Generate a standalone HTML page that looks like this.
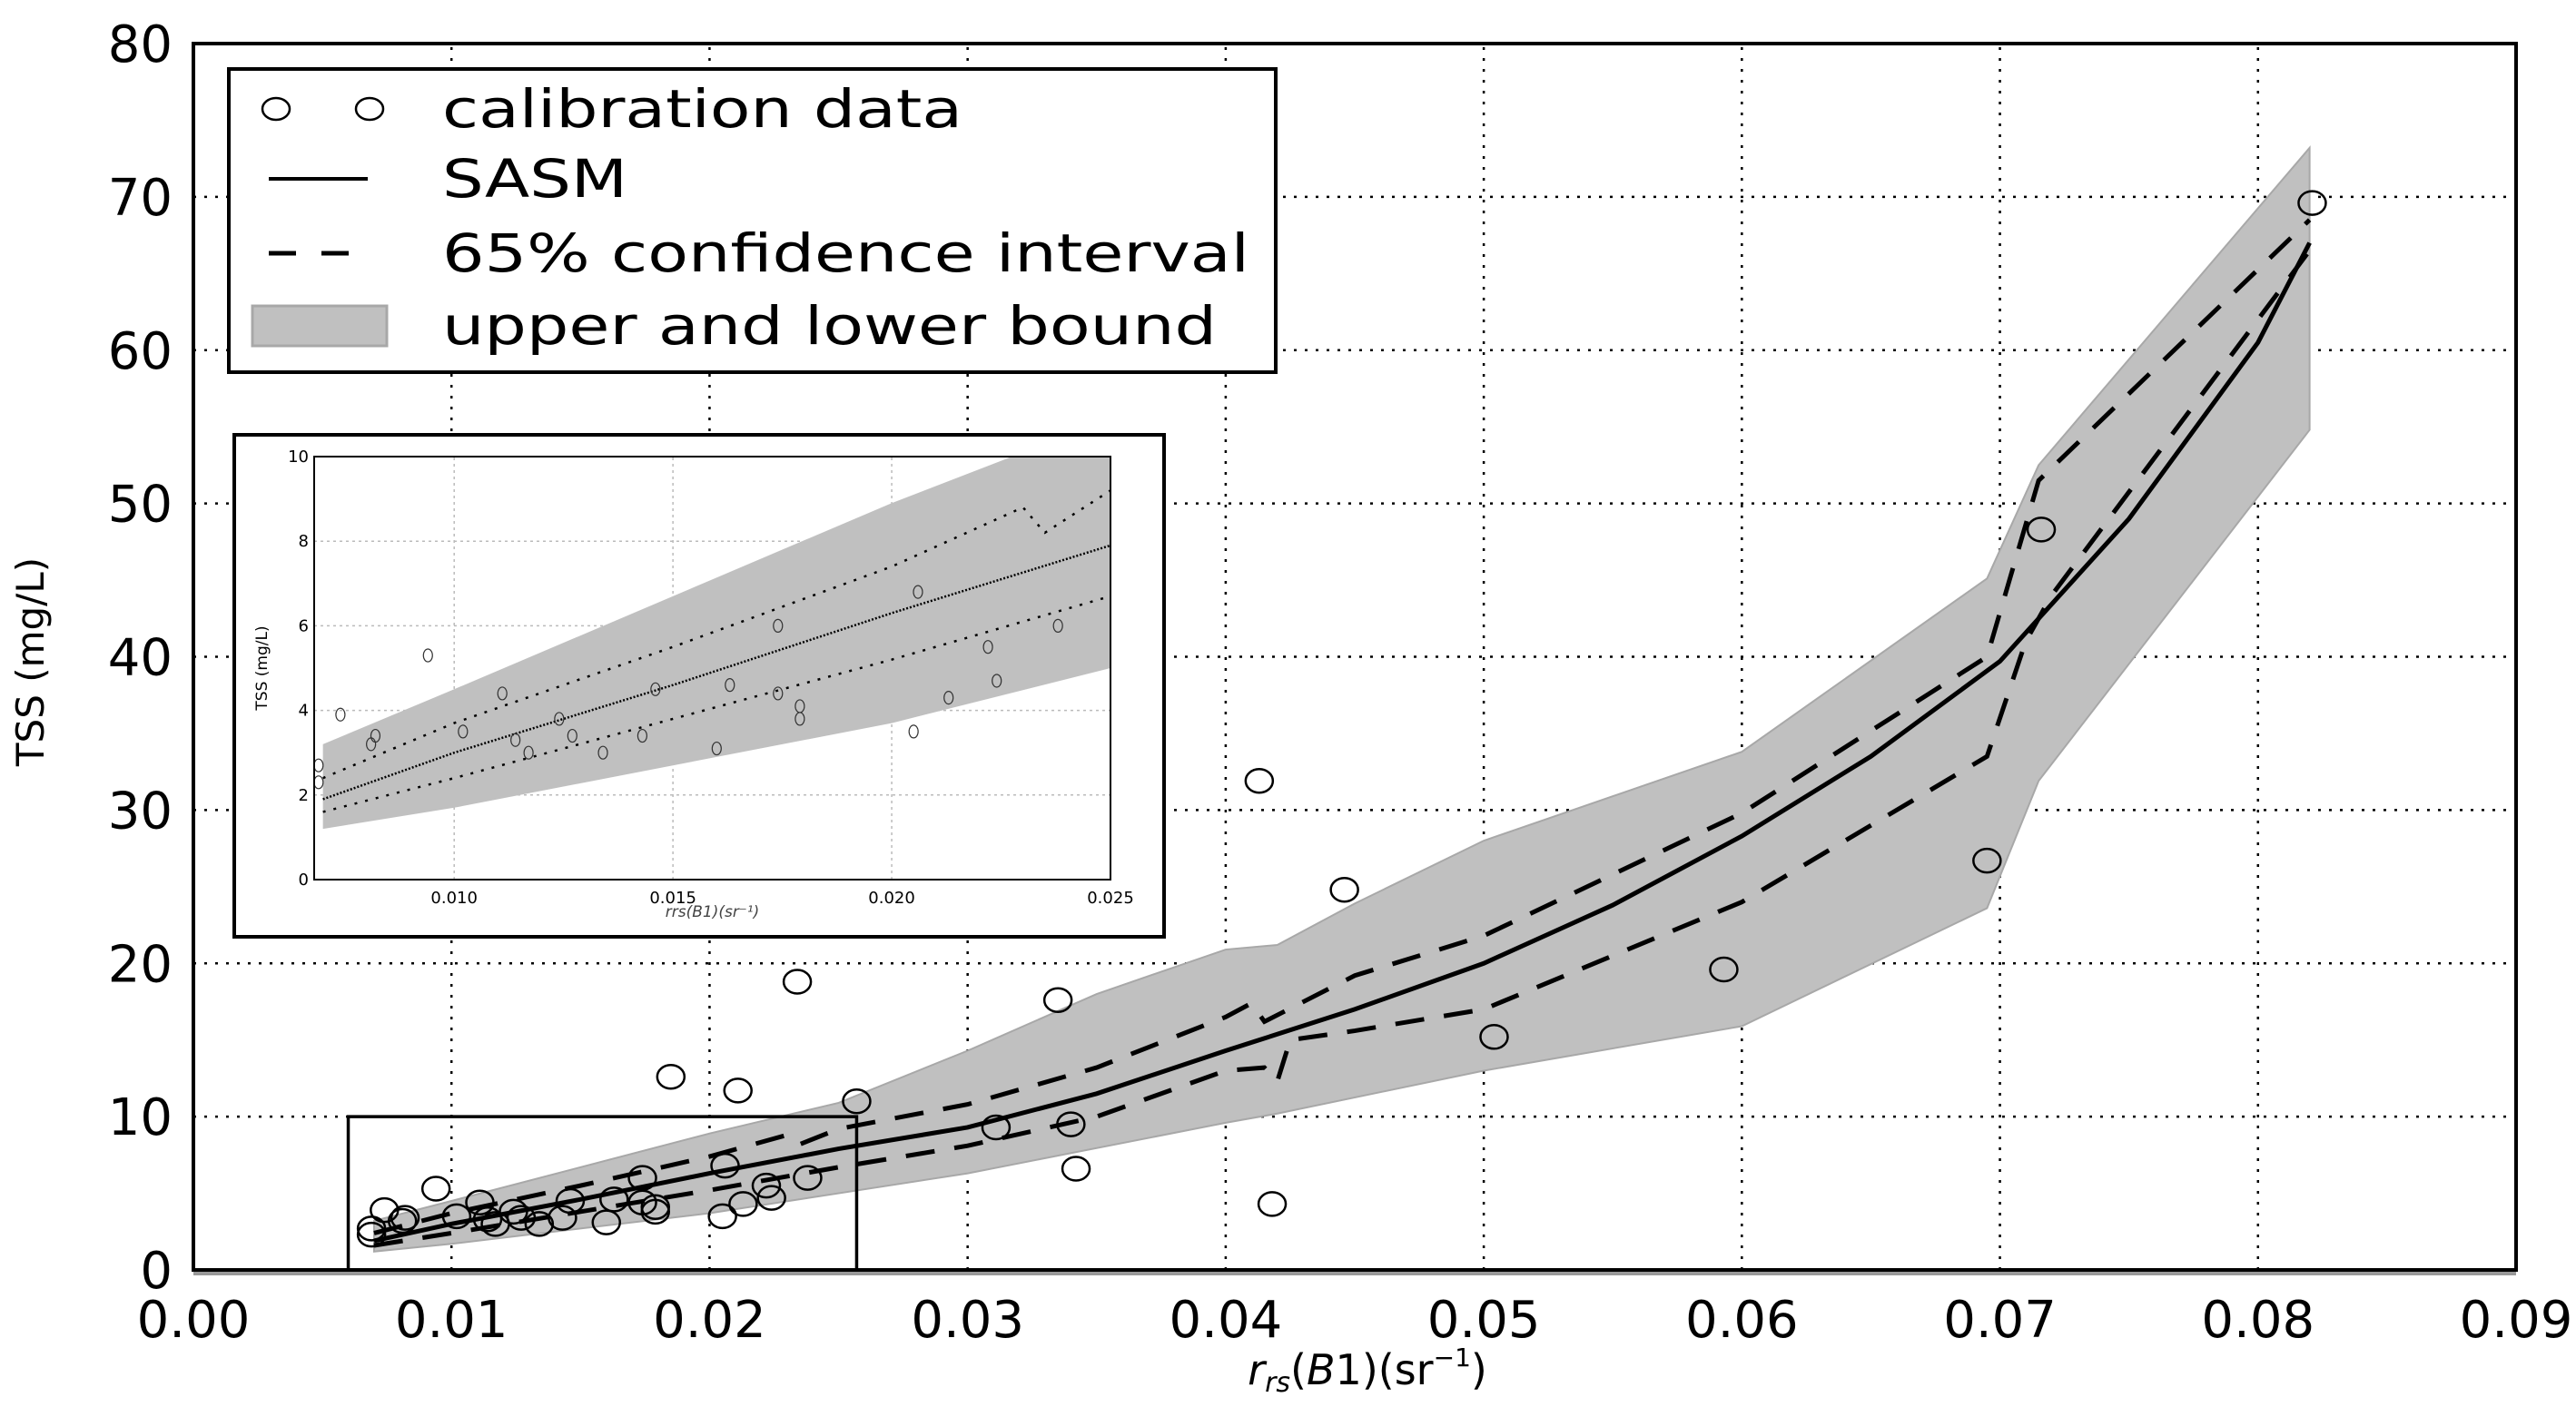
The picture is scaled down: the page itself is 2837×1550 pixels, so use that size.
<!DOCTYPE html>
<html><head><meta charset="utf-8"><style>
html,body{margin:0;padding:0;background:#fff;}
svg{display:block;}
text{font-family:"DejaVu Sans","Liberation Sans",sans-serif;}
</style></head><body>
<svg id="chart" width="2837" height="1550" viewBox="0 0 2837 1550" xmlns="http://www.w3.org/2000/svg"></svg>
<script>
// ---- data ----
const xTicks = [0,0.01,0.02,0.03,0.04,0.05,0.06,0.07,0.08,0.09];
const xTickLabels = ["0.00","0.01","0.02","0.03","0.04","0.05","0.06","0.07","0.08","0.09"];
const yTicks = [0,10,20,30,40,50,60,70,80];
const yTickLabels = ["0","10","20","30","40","50","60","70","80"];
const calX = [0.0821,0.0716,0.0695,0.0593,0.0504,0.0413,0.0446,0.0418,0.0335,0.0340,0.0342,0.0311,0.0234,0.0185,0.0211,0.0257,0.0238,0.0206,0.0222,0.0224,0.0213,0.0205,0.0094,0.0074,0.0069,0.0069,0.0081,0.0082,0.0102,0.0111,0.0114,0.0124,0.0127,0.0134,0.0143,0.0146,0.0160,0.0163,0.0174,0.0174,0.0179,0.0179,0.0117];
const calY = [69.6,48.3,26.7,19.6,15.2,31.9,24.8,4.3,17.6,9.5,6.6,9.3,18.8,12.6,11.7,11.0,6.0,6.8,5.5,4.7,4.3,3.5,5.3,3.9,2.7,2.3,3.2,3.4,3.5,4.4,3.3,3.8,3.4,3.0,3.4,4.5,3.1,4.6,6.0,4.4,4.1,3.8,3.0];
const sasmX = [0.007,0.01,0.015,0.02,0.025,0.03,0.035,0.04,0.045,0.05,0.055,0.06,0.065,0.07,0.075,0.08,0.082];
const sasmY = [1.9,3.0,4.6,6.3,7.9,9.3,11.5,14.3,17.0,20.0,23.8,28.3,33.5,39.7,49,60.5,67];
const upX = [0.007,0.01,0.015,0.02,0.023,0.0235,0.025,0.03,0.035,0.04,0.041,0.0415,0.045,0.05,0.06,0.0695,0.0715,0.082];
const upY = [2.4,3.7,5.5,7.4,8.8,8.2,9.2,10.8,13.2,16.5,17.4,16.2,19.2,21.8,29.8,40,51.5,68.5];
const loX = [0.007,0.01,0.015,0.02,0.025,0.03,0.035,0.04,0.0415,0.042,0.0425,0.045,0.05,0.06,0.0695,0.071,0.072,0.082];
const loY = [1.6,2.4,3.8,5.2,6.7,8.1,10,13,13.2,12.3,15,15.6,17,24,33.5,41,44,66.5];
const bandUX = [0.007,0.01,0.02,0.025,0.03,0.035,0.04,0.042,0.045,0.05,0.06,0.0695,0.0715,0.082];
const bandUY = [3.2,4.5,8.9,10.9,14.3,18,20.9,21.2,23.9,28,33.8,45.1,52.5,73.2];
const bandLX = [0.007,0.01,0.02,0.03,0.04,0.042,0.05,0.06,0.0695,0.0715,0.082];
const bandLY = [1.2,1.7,3.7,6.3,9.6,10.2,13.0,15.9,23.6,31.9,54.8];
const insetXTicks = [0.010,0.015,0.020,0.025];
const insetXTickLabels = ["0.010","0.015","0.020","0.025"];
const insetYTicks = [0,2,4,6,8,10];
const insetYTickLabels = ["0","2","4","6","8","10"];

const NS="http://www.w3.org/2000/svg";
const svg=document.getElementById('chart');
function mk(tag,attrs,parent){const e=document.createElementNS(NS,tag);for(const k in attrs)e.setAttribute(k,attrs[k]);(parent||svg).appendChild(e);return e;}

const PX0=213,PX1=2771,PY0=1399,PY1=48;
const sx=v=>PX0+(v-0)/(0.09)*(PX1-PX0);
const sy=v=>PY0-(v/80)*(PY0-PY1);
function pts(xs,ys,fx,fy){return xs.map((x,i)=>fx(x)+','+fy(ys[i])).join(' ');}

const defs=mk('defs',{});
const cp=mk('clipPath',{id:'mainclip'},defs);mk('rect',{x:PX0,y:PY1,width:PX1-PX0,height:PY0-PY1},cp);
const cp2=mk('clipPath',{id:'insetclip'},defs);

const grid=mk('g',{stroke:'#000','stroke-width':2.5,'stroke-dasharray':'3,9'});


xTicks.forEach(t=>{mk('line',{x1:sx(t),x2:sx(t),y1:PY0,y2:PY1},grid);});
yTicks.forEach(t=>{mk('line',{x1:PX0,x2:PX1,y1:sy(t),y2:sy(t)},grid);});

const plot=mk('g',{'clip-path':'url(#mainclip)'});
const band=mk('polygon',{points:pts(bandUX,bandUY,sx,sy)+' '+pts(bandLX.slice().reverse(),bandLY.slice().reverse(),sx,sy),fill:'#c0c0c0',stroke:'#a8a8a8','stroke-width':2},plot);


const up=mk('polyline',{points:pts(upX,upY,sx,sy),fill:'none',stroke:'#000','stroke-width':5,'stroke-dasharray':'32,22'},plot);


const lo=mk('polyline',{points:pts(loX,loY,sx,sy),fill:'none',stroke:'#000','stroke-width':5,'stroke-dasharray':'32,22'},plot);


const sasm=mk('polyline',{points:pts(sasmX,sasmY,sx,sy),fill:'none',stroke:'#000','stroke-width':5},plot);


calX.forEach((x,i)=>{const c=mk('ellipse',{cx:sx(x),cy:sy(calY[i]),rx:15,ry:13,fill:'none',stroke:'#000','stroke-width':2.5},plot);

});

const zr=mk('rect',{x:sx(0.006),y:sy(10),width:sx(0.0257)-sx(0.006),height:sy(0)-sy(10),fill:'none',stroke:'#000','stroke-width':3.5});



const fr=mk('rect',{x:PX0,y:PY1,width:PX1-PX0,height:PY0-PY1,fill:'none',stroke:'#000','stroke-width':4});


mk('line',{x1:PX0,x2:PX1,y1:PY0+4,y2:PY0+4,stroke:'#999','stroke-width':4});

xTicks.forEach((t,i)=>{const e=mk('text',{x:sx(t),y:1473,'font-size':56,'text-anchor':'middle'});e.textContent=xTickLabels[i];

});
yTicks.forEach((t,i)=>{const e=mk('text',{x:190,y:sy(t)+20,'font-size':56,'text-anchor':'end'});e.textContent=yTickLabels[i];

});
const yl=mk('text',{x:0,y:0,'font-size':42,'text-anchor':'middle',transform:'translate(48,729) rotate(-90)'});yl.textContent='TSS (mg/L)';


const xl=mk('text',{x:1506,y:1525,'font-size':46,'text-anchor':'middle','font-family':'Liberation Serif, serif'});
xl.innerHTML='<tspan font-style="italic">r</tspan><tspan font-style="italic" font-size="30" dy="8">rs</tspan><tspan dy="-8">(</tspan><tspan font-style="italic">B</tspan><tspan>1)(</tspan><tspan font-family="DejaVu Sans, sans-serif">sr</tspan><tspan font-size="28" dy="-20">−1</tspan><tspan dy="20">)</tspan>';



const lg=mk('g',{});


mk('rect',{x:252,y:76,width:1153,height:334,fill:'#fff',stroke:'#000','stroke-width':4},lg);
mk('ellipse',{cx:304,cy:120,rx:15,ry:12,fill:'none',stroke:'#000','stroke-width':2.5},lg);
mk('ellipse',{cx:407,cy:120,rx:15,ry:12,fill:'none',stroke:'#000','stroke-width':2.5},lg);
mk('line',{x1:296,x2:405,y1:197,y2:197,stroke:'#000','stroke-width':4},lg);
mk('line',{x1:296,x2:405,y1:279,y2:279,stroke:'#000','stroke-width':5,'stroke-dasharray':'30,28'},lg);
mk('rect',{x:278,y:337,width:148,height:44,fill:'#c0c0c0',stroke:'#a8a8a8','stroke-width':3},lg);
const legTexts=['calibration data','SASM','65% confidence interval','upper and lower bound'];
const legY=[140,217,299,379];
const legW=[573,204,889,853];
legTexts.forEach((t,i)=>{const e=mk('text',{x:487,y:legY[i],'font-size':58,textLength:legW[i],lengthAdjust:'spacingAndGlyphs'},lg);e.textContent=t;

});

const IX0=346,IX1=1223,IY0=969,IY1=503;
const ix=v=>IX0+(v-0.0068)/(0.025-0.0068)*(IX1-IX0);
const iy=v=>IY0-(v/10)*(IY0-IY1);
mk('rect',{x:IX0,y:IY1,width:IX1-IX0,height:IY0-IY1},cp2);
const ins=mk('g',{});


mk('rect',{x:258,y:479,width:1024,height:553,fill:'#fff',stroke:'#000','stroke-width':4},ins);
const ig=mk('g',{stroke:'#bbb','stroke-width':1.5,'stroke-dasharray':'3,4'},ins);
insetXTicks.forEach(t=>mk('line',{x1:ix(t),x2:ix(t),y1:IY0,y2:IY1},ig));
insetYTicks.forEach(t=>mk('line',{x1:IX0,x2:IX1,y1:iy(t),y2:iy(t)},ig));
const ip=mk('g',{'clip-path':'url(#insetclip)'},ins);
mk('polygon',{points:pts(bandUX,bandUY,ix,iy)+' '+pts(bandLX.slice().reverse(),bandLY.slice().reverse(),ix,iy),fill:'#c0c0c0'},ip);
mk('polyline',{points:pts(upX,upY,ix,iy),fill:'none',stroke:'#000','stroke-width':2.5,'stroke-dasharray':'3,9'},ip);
mk('polyline',{points:pts(loX,loY,ix,iy),fill:'none',stroke:'#000','stroke-width':2.5,'stroke-dasharray':'3,9'},ip);
mk('polyline',{points:pts(sasmX,sasmY,ix,iy),fill:'none',stroke:'#000','stroke-width':2.5,'stroke-dasharray':'2,2'},ip);
calX.forEach((x,i)=>{mk('ellipse',{cx:ix(x),cy:iy(calY[i]),rx:5,ry:7,fill:'none',stroke:'#333','stroke-width':1.2},ip);});
mk('rect',{x:IX0,y:IY1,width:IX1-IX0,height:IY0-IY1,fill:'none',stroke:'#000','stroke-width':2},ins);
insetXTicks.forEach((t,i)=>{const e=mk('text',{x:ix(t),y:IY0+26,'font-size':18,'text-anchor':'middle'},ins);e.textContent=insetXTickLabels[i];});
insetYTicks.forEach((t,i)=>{const e=mk('text',{x:IX0-6,y:iy(t)+6,'font-size':18,'text-anchor':'end'},ins);e.textContent=insetYTickLabels[i];});
const iyl=mk('text',{x:0,y:0,'font-size':17,'text-anchor':'middle',transform:'translate(294,'+((IY0+IY1)/2)+') rotate(-90)'},ins);iyl.textContent='TSS (mg/L)';
const ixl=mk('text',{x:(IX0+IX1)/2,y:1010,'font-size':17,'text-anchor':'middle','font-style':'italic','fill':'#444'},ins);ixl.textContent='rrs(B1)(sr⁻¹)';
</script>
</body></html>
